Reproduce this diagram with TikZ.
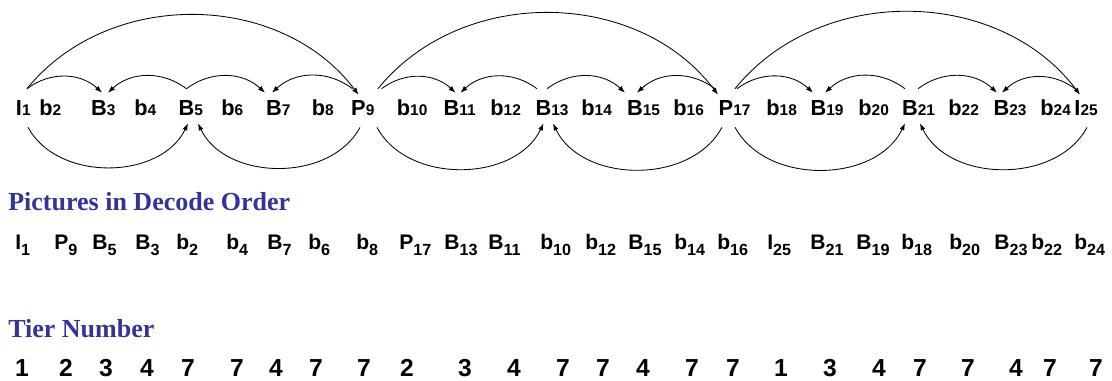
\documentclass[tikz,border=0pt]{standalone}
\usepackage{fontspec}
\setmainfont{Liberation Serif}
\setsansfont{Liberation Sans}
\usepackage{tikz}
\usetikzlibrary{arrows.meta}
\definecolor{titleblue}{HTML}{333399}
\newcommand{\topnum}[1]{\rlap{\fontsize{11}{12}\selectfont #1}}
\newcommand{\decnum}[1]{\raisebox{-4pt}{\fontsize{11.5}{12}\selectfont #1}}

\begin{document}
\begin{tikzpicture}[x=0.25mm, y=0.25mm,
    frm/.style={font=\sffamily\bfseries\fontsize{15.5}{17}\selectfont, inner sep=0pt, anchor=base},
    dec/.style={font=\sffamily\bfseries\fontsize{15}{16}\selectfont, inner sep=0pt, anchor=base west},
    tier/.style={font=\sffamily\bfseries\fontsize{17.5}{19}\selectfont, inner sep=0pt, anchor=base},
    ttl/.style={font=\rmfamily\bfseries\fontsize{18.5}{20}\selectfont, text=titleblue, inner sep=0pt, anchor=base west},
    arc/.style={-{Latex[length=5pt,width=3.6pt]}, line width=0.6pt}]
        \useasboundingbox (0,0) rectangle (1112,381);

        % 显示顺序的帧
        \foreach \x/\l/\n in {19/I/1, 46/b/2, 99/B/3, 141/b/4, 186.5/B/5, 228/b/6, 274/B/7, 318.5/b/8,
            358.5/P/9, 403.5/b/10, 451.5/B/11, 497/b/12, 543.5/B/13, 588/b/14, 635/B/15, 680/b/16,
            726/P/17, 773/b/18, 818.5/B/19, 865/b/20, 910/B/21, 955/b/22, 1001.5/B/23, 1047/b/24, 1077.5/I/25}
          \node[frm] (\l\n) at (\x,265) {\l\topnum{\n}};

        % 第一组参考箭头
        \draw[arc] ([shift={(8,12)}]I1.north) to[bend left=52] ([shift={(0,6)}]P9.north);
        \draw[arc] ([shift={(8,12)}]I1.north) to[bend left=40] ([shift={(3,8)}]B3.north);
        \draw[arc] ([shift={(0,12)}]B5.north) to[bend right=40] ([shift={(9,8)}]B3.north);
        \draw[arc] ([shift={(0,12)}]B5.north) to[bend left=40] ([shift={(-9,8)}]B7.north);
        \draw[arc] ([shift={(-6,12)}]P9.north) to[bend right=40] ([shift={(-2,8)}]B7.north);
        \draw[arc] ([shift={(9,-11)}]I1.south) to[bend right=63] ([shift={(1.5,-7)}]B5.south);
        \draw[arc] ([shift={(1.5,-11)}]P9.south) to[bend left=63] ([shift={(11.5,-7)}]B5.south);

        % 第二组参考箭头
        \draw[arc] ([shift={(19.5,12)}]P9.north) to[bend left=52] ([shift={(-8,6)}]P17.north);
        \draw[arc] ([shift={(23,12)}]P9.north) to[bend left=40] ([shift={(4,8)}]B11.north);
        \draw[arc] ([shift={(-6.5,12)}]B13.north) to[bend right=40] ([shift={(9,8)}]B11.north);
        \draw[arc] ([shift={(3.5,12)}]B13.north) to[bend left=40] ([shift={(-10,8)}]B15.north);
        \draw[arc] ([shift={(-11,12)}]P17.north) to[bend right=40] ([shift={(2,8)}]B15.north);
        \draw[arc] ([shift={(18.5,-11)}]P9.south) to[bend right=63] ([shift={(0,-7)}]B13.south);
        \draw[arc] ([shift={(-4,-11)}]P17.south) to[bend left=63] ([shift={(9.5,-7)}]B13.south);

        % 第三组参考箭头
        \draw[arc] ([shift={(9,12)}]P17.north) to[bend left=52] ([shift={(2.5,6)}]I25.north);
        \draw[arc] ([shift={(11,12)}]P17.north) to[bend left=40] ([shift={(-5.5,8)}]B19.north);
        \draw[arc] ([shift={(-5,12)}]B21.north) to[bend right=40] ([shift={(6.5,8)}]B19.north);
        \draw[arc] ([shift={(8,12)}]B21.north) to[bend left=40] ([shift={(-4.5,8)}]B23.north);
        \draw[arc] ([shift={(-2.5,12)}]I25.north) to[bend right=40] ([shift={(0.5,8)}]B23.north);
        \draw[arc] ([shift={(9,-11)}]P17.south) to[bend right=63] ([shift={(-5,-7)}]B21.south);
        \draw[arc] ([shift={(9.5,-11)}]I25.south) to[bend left=63] ([shift={(10,-7)}]B21.south);

        % 解码顺序
        \node[ttl] (dectitle) at (8,170) {Pictures in Decode Order};
        \foreach \x/\l/\n [count=\i] in {15/I/1, 54/P/9, 92/B/5, 135/B/3, 176/b/2, 226/b/4, 267/B/7,
            308/b/6, 356/b/8, 399/P/17, 444/B/13, 488/B/11, 540/b/10, 585/b/12, 628/B/15, 674/b/14,
            717/b/16, 767/I/25, 810/B/21, 856/B/19, 901/b/18, 949/b/20, 994/B/23, 1031/b/22, 1074/b/24}
          \node[dec] (o\i) at (\x,131) {\l\decnum{\n}};

        % 层号
        \node[ttl] (tiertitle) at (8,43) {Tier Number};
        \foreach \x/\n [count=\i] in {22/1, 66/2, 106/3, 147/4, 188/7, 237/7, 276/4, 316/7, 364/7,
            407/2, 465/3, 514/4, 563/7, 603/7, 643/4, 692/7, 733/7, 781/1, 830/3, 879/4, 920/7,
            968/7, 1016/4, 1050/7, 1096/7}
          \node[tier] (t\i) at (\x,4) {\n};
\end{tikzpicture}
\end{document}
